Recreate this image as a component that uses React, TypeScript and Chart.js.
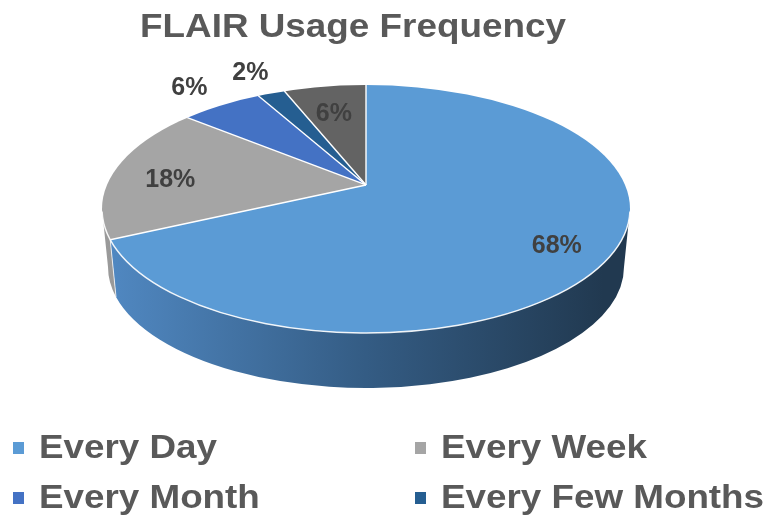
import React, { useEffect, useRef } from 'react';
import { Chart, registerables } from 'chart.js';

Chart.register(...registerables);

// ---------- data ----------
const TITLE = 'FLAIR Usage Frequency';
const categories = ['Every Day', 'Every Week', 'Every Month', 'Every Few Months', 'Never'];
const percentages = [68, 18, 6, 2, 6];

// ---------- styles ----------
const topColors = ['#5B9BD5', '#A5A5A5', '#4472C4', '#255E91', '#636363'];
const sideLight = ['#5189c3', '#9a9a9a', '#4a73b8', '#2a5b88', '#6a6a6a'];
const sideMid = ['#345c84', '#8a8a8a', '#375a9a', '#20476c', '#525252'];
const sideDark = ['#213950', '#7a7a7a', '#263f6b', '#15334f', '#3a3a3a'];
const labelOutside = [false, false, true, true, false];

const FONT = '"Liberation Sans", Arial, Helvetica, sans-serif';
const TEXT_COLOR = '#595959';
const LABEL_COLOR = '#404040';

const VIEW = { tilt: 0.455, apexFrac: 0.403, cover: 1.4, depth: 58, shrinkX: 6, shrinkY: 3 };
const LABEL_LAYOUT = { inside: 0.78, outside: 1.22, insideDrop: 6 };
const TITLE_LAYOUT = { x: 353, baseline: 37, size: 33.5, stretch: 1.1 };
const LEGEND = { cols: [13, 415], firstBaseline: 458, rowGap: 50, textOffset: 26, size: 33, stretch: 1.115, box: 11 };

type Geom = { ex: number; ey: number; rx: number; ry: number; ax: number; ay: number };

function geom(chart: any): Geom {
  const a = chart.chartArea;
  const ex = (a.left + a.right) / 2;
  const ey = (a.top + a.bottom) / 2;
  const rx = (a.right - a.left) / 2;
  const ry = (a.bottom - a.top) / 2;
  return { ex, ey, rx, ry, ax: ex, ay: a.top + (a.bottom - a.top) * VIEW.apexFrac };
}

function ray(g: Geom, theta: number) {
  const dx = Math.cos(theta);
  const dy = VIEW.tilt * Math.sin(theta);
  const px = g.ax - g.ex;
  const py = g.ay - g.ey;
  const A = (dx / g.rx) ** 2 + (dy / g.ry) ** 2;
  const B = 2 * ((px * dx) / (g.rx * g.rx) + (py * dy) / (g.ry * g.ry));
  const C = (px / g.rx) ** 2 + (py / g.ry) ** 2 - 1;
  const t = (-B + Math.sqrt(B * B - 4 * A * C)) / (2 * A);
  return { dx, dy, t };
}

function rimPhi(g: Geom, theta: number) {
  const { dx, dy, t } = ray(g, theta);
  const x = g.ax + dx * t;
  const y = g.ay + dy * t;
  return Math.atan2((y - g.ey) / g.ry, (x - g.ex) / g.rx);
}

const pie3d = {
  id: 'pie3d',
  beforeDatasetsDraw(chart: any) {
    const ctx = chart.ctx as CanvasRenderingContext2D;
    const g = geom(chart);
    const meta = chart.getDatasetMeta(0);
    const D = VIEW.depth;
    const brx = g.rx - VIEW.shrinkX;
    const bry = g.ry - VIEW.shrinkY;

    // side walls (front half only)
    const boundaries: number[] = [];
    meta.data.forEach((arc: any, i: number) => {
      const ps = rimPhi(g, arc.startAngle);
      let pe = rimPhi(g, arc.endAngle);
      let span = pe - ps;
      while (span <= 0) span += Math.PI * 2;
      if (arc.endAngle - arc.startAngle >= Math.PI * 2 - 1e-6) span = Math.PI * 2;
      pe = ps + span;
      const grad = ctx.createLinearGradient(g.ex - g.rx, 0, g.ex + g.rx, 0);
      grad.addColorStop(0, sideLight[i]);
      grad.addColorStop(0.5, sideMid[i]);
      grad.addColorStop(0.95, sideDark[i]);
      grad.addColorStop(1, sideDark[i]);
      for (const off of [-Math.PI * 2, 0, Math.PI * 2]) {
        const lo = Math.max(ps, off + 0);
        const hi = Math.min(pe, off + Math.PI);
        if (hi > lo) {
          ctx.save();
          ctx.beginPath();
          ctx.ellipse(g.ex, g.ey, g.rx, g.ry, 0, lo - off, hi - off, false);
          ctx.ellipse(g.ex, g.ey + D, brx, bry, 0, hi - off, lo - off, true);
          ctx.closePath();
          ctx.fillStyle = grad;
          ctx.fill();
          ctx.restore();
        }
      }
      const n = ((ps % (Math.PI * 2)) + Math.PI * 2) % (Math.PI * 2);
      if (n > 0.02 && n < Math.PI - 0.02) boundaries.push(n);
    });
    // wall edges
    ctx.save();
    ctx.strokeStyle = 'rgba(255,255,255,0.75)';
    ctx.lineWidth = 1;
    boundaries.forEach((p) => {
      ctx.beginPath();
      ctx.moveTo(g.ex + g.rx * Math.cos(p), g.ey + g.ry * Math.sin(p));
      ctx.lineTo(g.ex + brx * Math.cos(p), g.ey + D + bry * Math.sin(p));
      ctx.stroke();
    });
    ctx.restore();

    // top face transform: clip to the rim ellipse, tilt around the apex
    const a0 = meta.data[0];
    const k = (g.rx * VIEW.cover) / a0.outerRadius;
    ctx.save();
    ctx.beginPath();
    ctx.ellipse(g.ex, g.ey, g.rx, g.ry, 0, 0, Math.PI * 2);
    ctx.clip();
    ctx.translate(g.ax, g.ay);
    ctx.scale(k, k * VIEW.tilt);
    ctx.translate(-a0.x, -a0.y);
  },
  afterDatasetsDraw(chart: any) {
    const ctx = chart.ctx as CanvasRenderingContext2D;
    ctx.restore();
    const g = geom(chart);
    const meta = chart.getDatasetMeta(0);

    // slice separators
    ctx.save();
    ctx.strokeStyle = '#ffffff';
    ctx.lineWidth = 1.4;
    meta.data.forEach((arc: any) => {
      const { dx, dy, t } = ray(g, arc.startAngle);
      ctx.beginPath();
      ctx.moveTo(g.ax, g.ay);
      ctx.lineTo(g.ax + dx * t, g.ay + dy * t);
      ctx.stroke();
    });
    // rim highlight
    ctx.strokeStyle = 'rgba(255,255,255,0.9)';
    ctx.lineWidth = 1.5;
    ctx.beginPath();
    ctx.ellipse(g.ex, g.ey, g.rx, g.ry, 0, 0.02, Math.PI - 0.02);
    ctx.stroke();
    ctx.restore();

    // data labels
    ctx.save();
    ctx.font = `bold 25px ${FONT}`;
    ctx.fillStyle = LABEL_COLOR;
    ctx.textAlign = 'center';
    ctx.textBaseline = 'middle';
    meta.data.forEach((arc: any, i: number) => {
      const mid = (arc.startAngle + arc.endAngle) / 2;
      const { dx, dy, t } = ray(g, mid);
      const out = labelOutside[i];
      const f = out ? LABEL_LAYOUT.outside : LABEL_LAYOUT.inside;
      const drop = out ? 0 : LABEL_LAYOUT.insideDrop;
      ctx.fillText(`${percentages[i]}%`, g.ax + dx * t * f, g.ay + dy * t * f + drop);
    });
    ctx.restore();
  },
  afterDraw(chart: any) {
    const ctx = chart.ctx as CanvasRenderingContext2D;
    // title
    ctx.save();
    ctx.font = `bold ${TITLE_LAYOUT.size}px ${FONT}`;
    ctx.fillStyle = TEXT_COLOR;
    ctx.textAlign = 'center';
    ctx.textBaseline = 'alphabetic';
    ctx.translate(TITLE_LAYOUT.x, TITLE_LAYOUT.baseline);
    ctx.scale(TITLE_LAYOUT.stretch, 1);
    ctx.fillText(TITLE, 0, 0);
    ctx.restore();

    // legend
    categories.forEach((name, i) => {
      const col = i % 2;
      const row = Math.floor(i / 2);
      const x = LEGEND.cols[col];
      const base = LEGEND.firstBaseline + row * LEGEND.rowGap;
      ctx.save();
      ctx.fillStyle = topColors[i];
      ctx.fillRect(x, base - 16, LEGEND.box, LEGEND.box + 1);
      ctx.font = `bold ${LEGEND.size}px ${FONT}`;
      ctx.fillStyle = TEXT_COLOR;
      ctx.textAlign = 'left';
      ctx.textBaseline = 'alphabetic';
      ctx.translate(x + LEGEND.textOffset, base);
      ctx.scale(LEGEND.stretch, 1);
      ctx.fillText(name, 0, 0);
      ctx.restore();
    });
  },
};

export default function App() {
  const ref = useRef<HTMLCanvasElement>(null);
  useEffect(() => {
    document.body.style.margin = '0';
    const chart = new Chart(ref.current as HTMLCanvasElement, {
      type: 'pie',
      data: {
        labels: categories,
        datasets: [
          {
            data: percentages,
            backgroundColor: topColors,
            borderWidth: 0,
            clip: false as any,
          } as any,
        ],
      },
      options: {
        responsive: true,
        maintainAspectRatio: false,
        animation: false,
        devicePixelRatio: 1,
        events: [],
        layout: { padding: { left: 102, right: 154, top: 85, bottom: 185 } },
        plugins: {
          legend: { display: false },
          title: { display: false },
          tooltip: { enabled: false },
        },
      },
      plugins: [pie3d as any],
    });
    return () => chart.destroy();
  }, []);
  return (
    <div style={{ position: 'relative', width: 784, height: 518 }}>
      <canvas ref={ref} />
    </div>
  );
}
